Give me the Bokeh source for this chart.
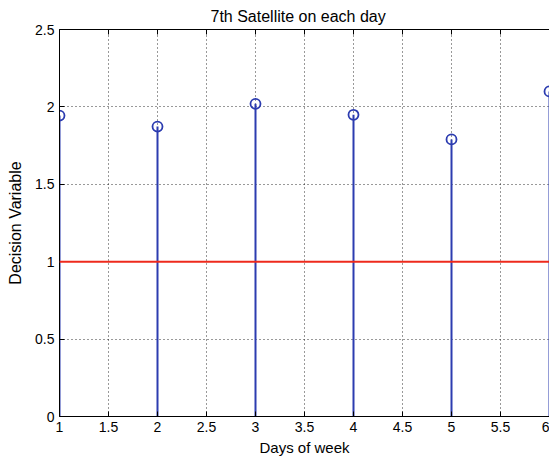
from bokeh.plotting import figure
from bokeh.models import Range1d, FixedTicker, LinearAxis, Span
from bokeh.embed import file_html
from bokeh.resources import INLINE

days = [1, 2, 3, 4, 5, 6]
decision = [1.944, 1.873, 2.02, 1.949, 1.79, 2.10]
threshold = 1.0
x_ticks = [1, 1.5, 2, 2.5, 3, 3.5, 4, 4.5, 5, 5.5, 6]
y_ticks = [0, 0.5, 1, 1.5, 2, 2.5]
title_text = "7th Satellite on each day"
x_label = "Days of week"
y_label = "Decision Variable"

FONT = "Liberation Sans"
BLUE = "#2c3cb0"

p = figure(width=549, height=460, output_backend="svg", toolbar_location=None,
           x_range=Range1d(1, 6), y_range=Range1d(0, 2.5),
           min_border_left=59, min_border_right=0, min_border_top=29, min_border_bottom=44)
p.outline_line_color = None
p.background_fill_color = "white"
p.border_fill_color = "white"

p.title.text = title_text
p.title.align = "left"
p.title.offset = 151
p.title.text_font = FONT
p.title.text_font_size = "16px"
p.title.text_font_style = "normal"
p.title.text_color = "black"

def fmt(v):
    return str(int(v)) if float(v).is_integer() else str(v)

for ax, ticks in ((p.xaxis[0], x_ticks), (p.yaxis[0], y_ticks)):
    ax.ticker = FixedTicker(ticks=ticks)
    ax.major_label_overrides = {t: fmt(t) for t in ticks}
    ax.minor_tick_line_color = None
    ax.major_tick_in = 5
    ax.major_tick_out = 0
    ax.major_label_text_font = FONT
    ax.major_label_text_font_size = "14px"
    ax.major_label_text_color = "black"
    ax.axis_label_text_font = FONT
    ax.axis_label_text_font_style = "normal"
    ax.axis_label_text_color = "black"
    ax.axis_line_color = "black"
    ax.major_tick_line_color = "black"

p.xaxis.axis_label = x_label
p.xaxis.axis_label_text_font_size = "15px"
p.yaxis.axis_label = y_label
p.yaxis.axis_label_text_font_size = "16px"
p.xaxis.major_label_standoff = 5
p.xaxis.axis_label_standoff = 4
p.yaxis.major_label_standoff = 5
p.yaxis.axis_label_standoff = 8

top = LinearAxis(ticker=FixedTicker(ticks=x_ticks), major_label_text_font_size="0px",
                 major_tick_in=5, major_tick_out=0, minor_tick_line_color=None,
                 axis_line_color="black", major_tick_line_color="black")
top.major_label_text_color = None
p.add_layout(top, "above")

for g, ticks in ((p.xgrid[0], x_ticks), (p.ygrid[0], y_ticks)):
    g.ticker = FixedTicker(ticks=ticks)
    g.grid_line_color = "black"
    g.grid_line_dash = "1 3"
    g.grid_line_width = 1
    g.grid_line_alpha = 0.8

p.segment(x0=days, y0=[0] * len(days), x1=days, y1=decision, line_color=BLUE, line_width=2)
p.scatter(days, decision, marker="circle", size=10, fill_color=None,
          line_color=BLUE, line_width=1.8)
p.add_layout(Span(location=threshold, dimension="width", line_color="#ee2a1c", line_width=2))

open("out.html", "w").write(file_html(p, INLINE))
